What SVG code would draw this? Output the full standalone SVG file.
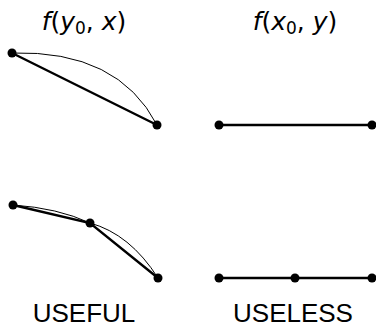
<svg xmlns="http://www.w3.org/2000/svg" width="376" height="327" viewBox="0 0 376 327">
<style>
.thick{stroke:#000;stroke-width:2.4;fill:none;stroke-linecap:round}
.thin{stroke:#000;stroke-width:1;fill:none}
.dot{fill:#000}
.math{font-family:"DejaVu Sans",sans-serif;font-size:25px;font-style:oblique}
.up{font-style:normal}
.sub{font-style:normal;font-size:17px}
.lab{font-family:"Liberation Sans",Arial,sans-serif;font-size:26px;text-anchor:middle}
</style>
<rect width="376" height="327" fill="#fff"/>
<g id="title-left"><text class="math" x="84" y="30" text-anchor="middle">f<tspan class="up">(</tspan>y<tspan class="sub" dy="4">0</tspan><tspan class="up" dy="-4">, </tspan>x<tspan class="up">)</tspan></text></g>
<g id="title-right"><text class="math" x="295" y="30" text-anchor="middle">f<tspan class="up">(</tspan>x<tspan class="sub" dy="4">0</tspan><tspan class="up" dy="-4">, </tspan>y<tspan class="up">)</tspan></text></g>
<g id="connectors">
<line class="thick" x1="12" y1="53" x2="157" y2="125"/>
<path class="thin" d="M12,53 Q118,50 157,125"/>
<line class="thick" x1="219" y1="125" x2="372" y2="125"/>
<polyline class="thick" points="13,205 90,223 158,278"/>
<path class="thin" d="M13,205 Q58,208 90,223"/>
<path class="thin" d="M90,223 Q130,234 158,278"/>
<polyline class="thick" points="219,278 295,278 372,278"/>
</g>
<g id="node-tl1"><circle class="dot" cx="12" cy="53" r="4.5"/></g>
<g id="node-tl2"><circle class="dot" cx="157" cy="125" r="4.5"/></g>
<g id="node-tr1"><circle class="dot" cx="219" cy="125" r="4.5"/></g>
<g id="node-tr2"><circle class="dot" cx="372" cy="125" r="4.5"/></g>
<g id="node-bl1"><circle class="dot" cx="13" cy="205" r="4.5"/></g>
<g id="node-bl2"><circle class="dot" cx="90" cy="223" r="4.5"/></g>
<g id="node-bl3"><circle class="dot" cx="158" cy="278" r="4.5"/></g>
<g id="node-br1"><circle class="dot" cx="219" cy="278" r="4.5"/></g>
<g id="node-br2"><circle class="dot" cx="295" cy="278" r="4.5"/></g>
<g id="node-br3"><circle class="dot" cx="372" cy="278" r="4.5"/></g>
<g id="label-useful"><text class="lab" x="84" y="322">USEFUL</text></g>
<g id="label-useless"><text class="lab" x="293" y="322">USELESS</text></g>
</svg>
